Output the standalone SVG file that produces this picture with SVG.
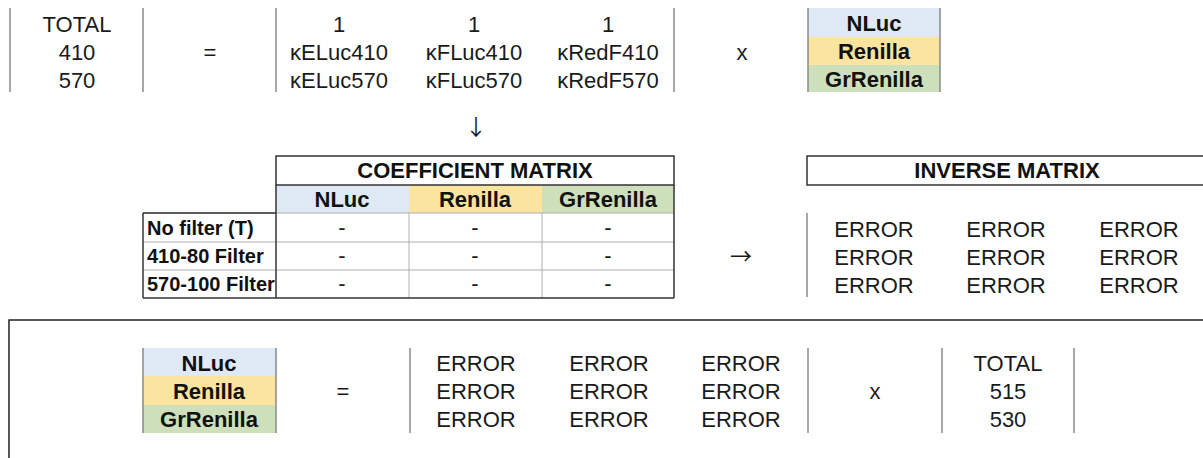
<svg xmlns="http://www.w3.org/2000/svg" width="1203" height="458" viewBox="0 0 1203 458">
<style>
.r{font-family:"Liberation Sans",Arial,sans-serif;font-size:22px;fill:#1a1a1a;text-anchor:middle}
.b{font-family:"Liberation Sans",Arial,sans-serif;font-size:22px;font-weight:bold;fill:#111;text-anchor:middle}
.lb{font-family:"Liberation Sans",Arial,sans-serif;font-size:20px;font-weight:bold;fill:#111}
.ar{font-family:"Noto Sans CJK SC","DejaVu Sans",sans-serif;font-size:22px;fill:#1a1a1a;text-anchor:middle}
.vl{stroke:#8a8a8a;stroke-width:1.5;fill:none}
.dk{stroke:#333;stroke-width:1.5;fill:none}
.gr{stroke:#b0b0b0;stroke-width:1;fill:none}
.cb{fill:#dfe8f5}.cy{fill:#fae49f}.cg{fill:#cde0bb}
</style>
<rect width="1203" height="458" fill="#fff"/>
<g id="top-equation">
<line class="vl" x1="10" y1="8" x2="10" y2="92"/>
<line class="vl" x1="143" y1="8" x2="143" y2="92"/>
<line class="vl" x1="276" y1="8" x2="276" y2="92"/>
<line class="vl" x1="674" y1="8" x2="674" y2="92"/>
<text class="r" x="77" y="32">TOTAL</text>
<text class="r" x="77" y="60">410</text>
<text class="r" x="77" y="88">570</text>
<text class="r" x="210" y="60">=</text>
<text class="r" x="339" y="32">1</text>
<text class="r" x="339" y="60">κELuc410</text>
<text class="r" x="339" y="88">κELuc570</text>
<text class="r" x="474" y="32">1</text>
<text class="r" x="474" y="60">κFLuc410</text>
<text class="r" x="474" y="88">κFLuc570</text>
<text class="r" x="608" y="32">1</text>
<text class="r" x="608" y="60">κRedF410</text>
<text class="r" x="608" y="88">κRedF570</text>
<text class="r" x="742" y="60">x</text>
<rect class="cb" x="808" y="8" width="132" height="29"/>
<rect class="cy" x="808" y="37" width="132" height="28"/>
<rect class="cg" x="808" y="65" width="132" height="27"/>
<line class="vl" x1="808" y1="8" x2="808" y2="92"/>
<line class="vl" x1="940" y1="8" x2="940" y2="92"/>
<text class="b" x="874" y="31">NLuc</text>
<text class="b" x="874" y="59">Renilla</text>
<text class="b" x="874" y="87">GrRenilla</text>
</g>
<g id="down-arrow">
<text class="ar" x="476" y="135">↓</text>
</g>
<g id="coefficient-matrix">
<rect class="cb" x="276" y="185" width="133" height="28"/>
<rect class="cy" x="409" y="185" width="133" height="28"/>
<rect class="cg" x="542" y="185" width="132" height="28"/>
<line class="gr" x1="409" y1="213" x2="409" y2="298"/>
<line class="gr" x1="542" y1="213" x2="542" y2="298"/>
<line class="gr" x1="143" y1="242" x2="674" y2="242"/>
<line class="gr" x1="143" y1="270" x2="674" y2="270"/>
<line class="gr" x1="143" y1="213" x2="674" y2="213"/>
<rect class="dk" x="276" y="156" width="398" height="29" stroke-width="2"/>
<line class="dk" x1="276" y1="185" x2="276" y2="298"/>
<line class="dk" x1="674" y1="185" x2="674" y2="298"/>
<line class="dk" x1="143" y1="213" x2="143" y2="298"/>
<line class="dk" x1="143" y1="213" x2="276" y2="213"/>
<line class="dk" x1="143" y1="298" x2="674" y2="298"/>
<text class="b" x="475" y="178">COEFFICIENT MATRIX</text>
<text class="b" x="342" y="207">NLuc</text>
<text class="b" x="475" y="207">Renilla</text>
<text class="b" x="608" y="207">GrRenilla</text>
<text class="lb" x="147" y="235">No filter (T)</text>
<text class="lb" x="147" y="263">410-80 Filter</text>
<text class="lb" x="147" y="291">570-100 Filter</text>
<text class="r" x="342" y="235" font-size="18" fill="#555">-</text>
<text class="r" x="475" y="235" font-size="18" fill="#555">-</text>
<text class="r" x="608" y="235" font-size="18" fill="#555">-</text>
<text class="r" x="342" y="263" font-size="18" fill="#555">-</text>
<text class="r" x="475" y="263" font-size="18" fill="#555">-</text>
<text class="r" x="608" y="263" font-size="18" fill="#555">-</text>
<text class="r" x="342" y="291" font-size="18" fill="#555">-</text>
<text class="r" x="475" y="291" font-size="18" fill="#555">-</text>
<text class="r" x="608" y="291" font-size="18" fill="#555">-</text>
</g>
<g id="right-arrow">
<text class="ar" x="741" y="264">→</text>
</g>
<g id="inverse-matrix">
<rect class="dk" x="807" y="156" width="420" height="29" stroke-width="2"/>
<text class="b" x="1007" y="178">INVERSE MATRIX</text>
<line class="vl" x1="807" y1="213" x2="807" y2="297"/>
<text class="r" x="874" y="237">ERROR</text>
<text class="r" x="1006" y="237">ERROR</text>
<text class="r" x="1139" y="237">ERROR</text>
<text class="r" x="874" y="265">ERROR</text>
<text class="r" x="1006" y="265">ERROR</text>
<text class="r" x="1139" y="265">ERROR</text>
<text class="r" x="874" y="293">ERROR</text>
<text class="r" x="1006" y="293">ERROR</text>
<text class="r" x="1139" y="293">ERROR</text>
</g>
<g id="result-equation">
<rect x="9" y="320" width="1220" height="160" fill="none" stroke="#222" stroke-width="1.5"/>
<rect class="cb" x="143" y="348" width="133" height="28"/>
<rect class="cy" x="143" y="376" width="133" height="29"/>
<rect class="cg" x="143" y="405" width="133" height="28"/>
<line class="vl" x1="143" y1="348" x2="143" y2="433"/>
<line class="vl" x1="276" y1="348" x2="276" y2="433"/>
<text class="b" x="209" y="371">NLuc</text>
<text class="b" x="209" y="399">Renilla</text>
<text class="b" x="209" y="427">GrRenilla</text>
<text class="r" x="343" y="399">=</text>
<line class="vl" x1="410" y1="348" x2="410" y2="433"/>
<text class="r" x="476" y="371">ERROR</text>
<text class="r" x="609" y="371">ERROR</text>
<text class="r" x="741" y="371">ERROR</text>
<text class="r" x="476" y="399">ERROR</text>
<text class="r" x="609" y="399">ERROR</text>
<text class="r" x="741" y="399">ERROR</text>
<text class="r" x="476" y="427">ERROR</text>
<text class="r" x="609" y="427">ERROR</text>
<text class="r" x="741" y="427">ERROR</text>
<line class="vl" x1="808" y1="348" x2="808" y2="433"/>
<text class="r" x="875" y="399">x</text>
<line class="vl" x1="942" y1="348" x2="942" y2="433"/>
<text class="r" x="1008" y="371">TOTAL</text>
<text class="r" x="1008" y="399">515</text>
<text class="r" x="1008" y="427">530</text>
<line class="vl" x1="1074" y1="348" x2="1074" y2="433"/>
</g>
</svg>
